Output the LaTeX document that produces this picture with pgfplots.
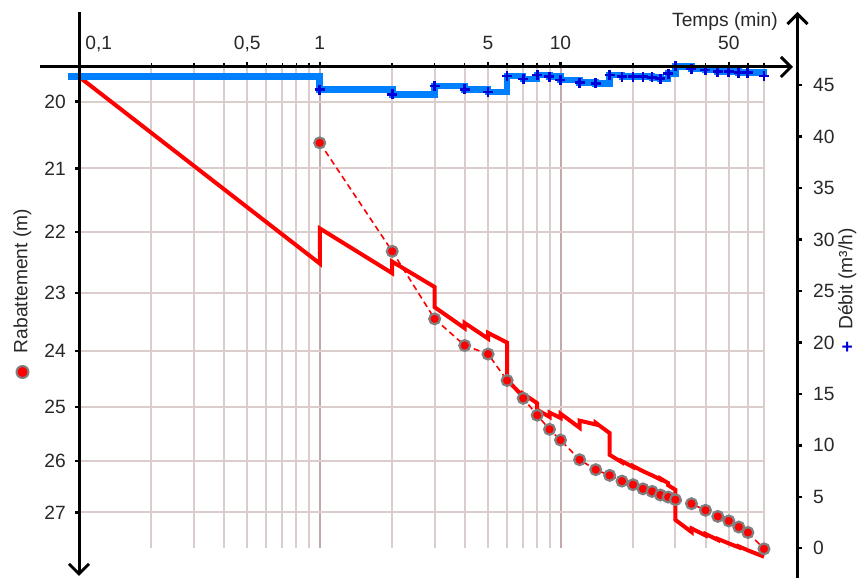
\documentclass[border=0pt]{standalone}
\usepackage{pgfplots}
\pgfplotsset{compat=1.18}
\usepackage{fontspec}
\setmainfont{Liberation Sans}
\usetikzlibrary{arrows.meta}

\definecolor{gridc}{RGB}{220,205,205}
\definecolor{gridmaj}{RGB}{195,170,170}
\definecolor{debitc}{RGB}{0,128,255}
\definecolor{markblue}{RGB}{0,0,215}
\definecolor{txt}{RGB}{40,40,40}
\newcommand{\lblfont}{\fontsize{9.6}{11.5}\selectfont}

\begin{document}
\begin{tikzpicture}
\begin{axis}[
  at={(39.5pt,14.85pt)}, anchor=south west,
  scale only axis, width=342.5pt, height=240.65pt,
  xmode=log, ymode=log, y dir=reverse,
  xmin=0.1, xmax=70, ymin=19.5, ymax=27.72,
  clip=false,
  axis line style={draw=none},
  xmajorgrids=true, xminorgrids=true, ymajorgrids=true,
  major x grid style={gridmaj, line width=1pt},
  minor x grid style={gridc, line width=1pt},
  major y grid style={gridc, line width=1pt},
  xtick style={draw=none},
  xticklabel=\empty,
  ytick={20,21,22,23,24,25,26,27},
  yticklabels={20,21,22,23,24,25,26,27},
  ytick pos=left,
  tick align=outside,
  major tick length=2pt,
  ytick style={black, line width=1.2pt},
  yticklabel style={font=\lblfont, text=txt, inner sep=0pt, xshift=-4.4pt},
]
\addplot[red, line width=2pt, line join=miter, miter limit=3] table {
t v
0.1 19.64
1 22.51
1 21.94
2 22.67
2 22.48
3 22.90
3 23.24
4 23.60
4 23.51
5 23.78
5 23.68
6 23.85
6 24.51
7 24.81
7 24.76
8 24.93
8 25.05
9 25.18
9 25.10
10 25.20
10 25.12
12 25.38
12 25.25
14 25.32
14 25.29
16 25.48
16 25.89
18 26.03
18 26.01
20 26.12
20 26.10
22 26.20
24 26.28
26 26.36
26 26.34
28 26.43
28 26.47
30 26.56
30 27.15
35 27.39
35 27.32
40 27.46
40 27.43
45 27.55
45 27.53
50 27.62
55 27.70
55 27.68
60 27.76
70 27.89
};
\addplot[red, line width=0.8pt, dash pattern=on 3pt off 2pt, mark=*, mark size=2.7pt,
  mark options={solid, fill=red, draw=gray, line width=1.1pt}] table {
t v
1 20.61
2 22.31
3 23.44
4 23.90
5 24.05
6 24.52
7 24.84
8 25.15
9 25.41
10 25.61
12 25.98
14 26.17
16 26.28
18 26.39
20 26.46
22 26.54
24 26.59
26 26.66
28 26.70
30 26.75
35 26.83
40 26.96
45 27.08
50 27.17
55 27.29
60 27.40
70 27.73
};
\end{axis}

\begin{axis}[
  at={(39.5pt,14.85pt)}, anchor=south west,
  scale only axis, width=359.25pt, height=240.65pt,
  xmode=log, xmin=0.1, xmax=96.47, ymin=0, ymax=46.75,
  clip=false,
  axis line style={draw=none},
  xtick pos=top, ytick pos=right,
  tick align=outside,
  xtick={0.5,1,5,10,50},
  xticklabels={{0,5},1,5,10,50},
  minor xtick={0.2,0.3,0.4,0.6,0.7,0.8,0.9,2,3,4,6,7,8,9,20,30,40,60,70},
  ytick={0,5,10,15,20,25,30,35,40,45},
  yticklabels={0,5,10,15,20,25,30,35,40,45},
  major tick length=2.5pt, minor tick length=2pt,
  tick style={black, line width=1.2pt},
  minor tick style={black, line width=0.8pt},
  xticklabel style={font=\lblfont, text=txt, anchor=base, inner sep=0pt, yshift=6.35pt},
  yticklabel style={font=\lblfont, text=txt, anchor=west, inner sep=0pt, xshift=5.1pt},
]
\addplot[debitc, line width=3.3pt, const plot mark left] table {
t q
0.09 45.85
1 44.55
2 44.10
3 44.90
4 44.58
5 44.32
6 45.87
7 45.58
8 45.97
9 45.80
10 45.48
12 45.22
14 45.16
16 45.97
18 45.80
20 45.80
22 45.80
24 45.73
26 45.60
28 46.10
30 46.80
35 46.60
40 46.45
45 46.30
50 46.30
55 46.20
60 46.20
70 45.87
};
\addplot[only marks, mark=+, mark size=2.5pt, markblue, mark options={line width=1.4pt}] table {
t q
1 44.55
2 44.10
3 44.90
4 44.58
5 44.32
6 45.87
7 45.58
8 45.97
9 45.80
10 45.48
12 45.22
14 45.16
16 45.97
18 45.80
20 45.80
22 45.80
24 45.73
26 45.60
28 46.10
30 46.80
35 46.60
40 46.45
45 46.30
50 46.30
55 46.20
60 46.20
70 45.87
};
\end{axis}

\draw[line width=1.5pt, -{Straight Barb[length=5pt,width=10pt,line width=1.5pt]}] (20pt,255.5pt) -- (396.5pt,255.5pt);
\draw[line width=1.5pt, -{Straight Barb[length=5pt,width=10pt,line width=1.5pt]}] (39.5pt,283.2pt) -- (39.5pt,1pt);
\draw[line width=1.5pt, -{Straight Barb[length=5pt,width=10pt,line width=1.5pt]}] (398.75pt,-3pt) -- (398.75pt,283pt);

\node[font=\lblfont, text=txt, anchor=base west, inner sep=0pt] at (42.5pt,264.35pt) {0,1};
\node[font=\lblfont, text=txt, anchor=base, inner sep=0pt] at (362.5pt,275.65pt) {Temps (min)};
\node[font=\lblfont, text=txt, rotate=90, inner sep=0pt] at (11.25pt,148.5pt) {Rabattement (m)};
\node[circle, fill=red, draw=gray, line width=1pt, minimum size=6pt, inner sep=0pt] at (11.25pt,103pt) {};
\node[font=\lblfont, text=txt, rotate=90, inner sep=0pt] at (423.6pt,149.5pt) {Débit (m³/h)};
\node[font=\bfseries\lblfont, text=markblue, inner sep=0pt] at (423.6pt,115pt) {+};

\pgfresetboundingbox
\path[use as bounding box] (0,0) rectangle (429.5pt,289pt);
\end{tikzpicture}
\end{document}
